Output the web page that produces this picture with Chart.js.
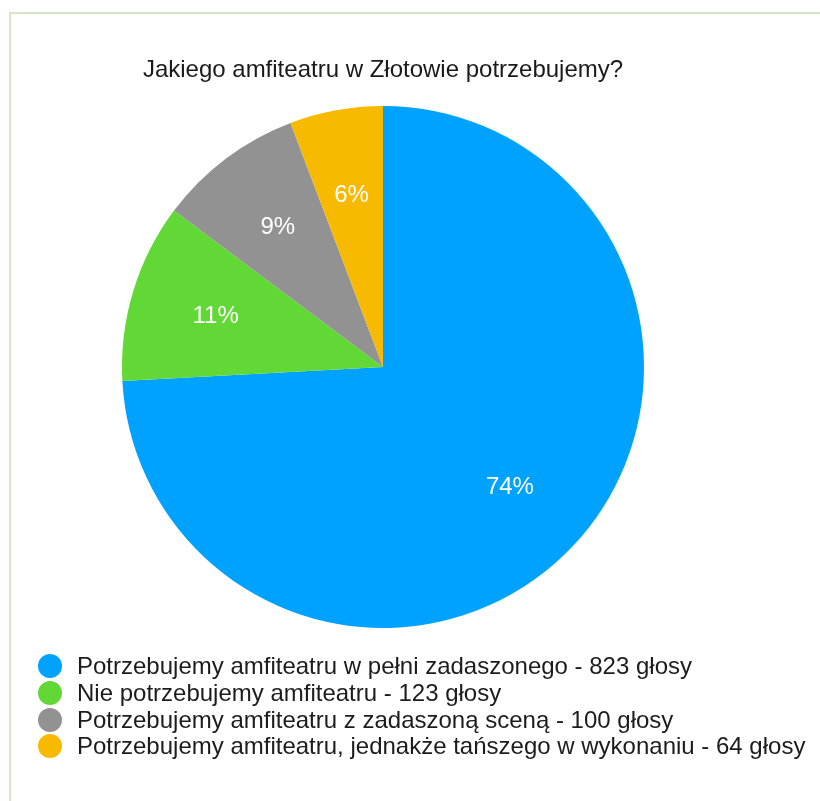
<!DOCTYPE html>
<html>
<head>
<meta charset="utf-8">
<script src="https://cdn.jsdelivr.net/npm/chart.js@4/dist/chart.umd.min.js"></script>
<style>
  html, body { margin: 0; padding: 0; background: #ffffff; }
  #wrap { position: relative; width: 820px; height: 801px; overflow: hidden; }
  #frame { position: absolute; left: 9px; top: 12px; right: -4px; bottom: -4px;
           border-left: 2px solid #d3e6c6; border-top: 2px solid #d3e6c6; }
  #chartBox { position: absolute; left: 0; top: 0; width: 820px; height: 801px; }
  #legend { position: absolute; left: 38px; top: 653px; font-family: "Liberation Sans", Arial, sans-serif;
            font-size: 24px; color: #1c1c1c; }
  .row { height: 26.7px; display: flex; align-items: center; white-space: nowrap; }
  .dot { width: 24px; height: 24px; border-radius: 50%; margin-right: 15px; flex: none; }
</style>
</head>
<body>
<div id="wrap">
  <div id="frame"></div>
  <div id="chartBox"><canvas id="c" width="820" height="801"></canvas></div>
  <div id="legend"></div>
</div>
<script>
const titleText = "Jakiego amfiteatru w Złotowie potrzebujemy?";
const categories = [
  "Potrzebujemy amfiteatru w pełni zadaszonego",
  "Nie potrzebujemy amfiteatru",
  "Potrzebujemy amfiteatru z zadaszoną sceną",
  "Potrzebujemy amfiteatru, jednakże tańszego w wykonaniu"
];
const votes = [823, 123, 100, 64];
const colors = ["#00a2ff", "#61d836", "#929292", "#f8ba00"];

const legendLabels = categories.map((c, i) => c + " - " + votes[i] + " głosy");

const pctLabels = {
  id: 'pctLabels',
  afterDatasetsDraw(chart) {
    const ctx = chart.ctx;
    const meta = chart.getDatasetMeta(0);
    const data = chart.data.datasets[0].data;
    const total = data.reduce((a, b) => a + b, 0);
    ctx.save();
    ctx.font = '24px "Liberation Sans", Arial, sans-serif';
    ctx.fillStyle = '#ffffff';
    ctx.textAlign = 'center';
    ctx.textBaseline = 'middle';
    meta.data.forEach((arc, i) => {
      const p = arc.getProps(['x', 'y', 'startAngle', 'endAngle', 'outerRadius'], true);
      const mid = (p.startAngle + p.endAngle) / 2;
      const r = p.outerRadius * 0.67;
      const txt = Math.round(data[i] / total * 100) + '%';
      ctx.fillText(txt, p.x + Math.cos(mid) * r, p.y + Math.sin(mid) * r);
    });
    ctx.restore();
  }
};

new Chart(document.getElementById('c'), {
  type: 'pie',
  data: {
    labels: categories,
    datasets: [{
      data: votes,
      backgroundColor: colors,
      borderWidth: 0,
      radius: 261
    }]
  },
  options: {
    responsive: false,
    animation: false,
    layout: { padding: { left: 0, right: 54, top: 0, bottom: 161.8 } },
    plugins: {
      legend: { display: false },
      tooltip: { enabled: false },
      title: {
        display: true,
        text: titleText,
        color: '#1a1a1a',
        font: { family: '"Liberation Sans", Arial, sans-serif', size: 24, weight: 'normal', lineHeight: 1.2 },
        padding: { top: 56, bottom: 10 }
      }
    }
  },
  plugins: [pctLabels]
});

const lg = document.getElementById('legend');
legendLabels.forEach((t, i) => {
  const row = document.createElement('div');
  row.className = 'row';
  const dot = document.createElement('span');
  dot.className = 'dot';
  dot.style.background = colors[i];
  const txt = document.createElement('span');
  txt.textContent = t;
  row.appendChild(dot);
  row.appendChild(txt);
  lg.appendChild(row);
});
</script>
</body>
</html>
